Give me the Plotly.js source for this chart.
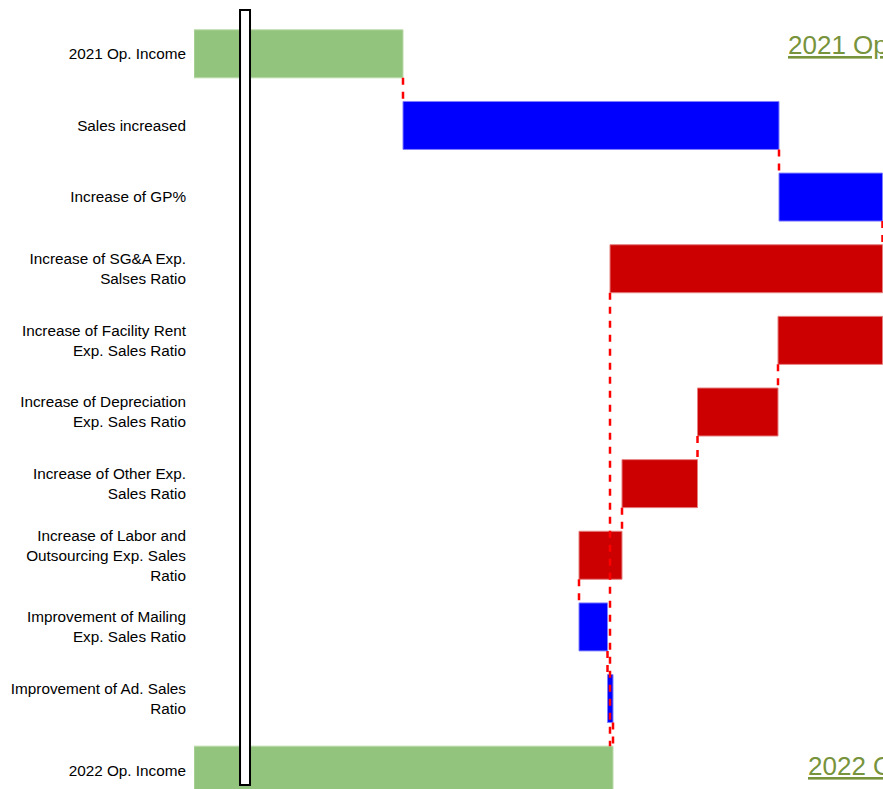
<!DOCTYPE html>
<html>
<head>
<meta charset="utf-8">
<script src="https://cdn.plot.ly/plotly-3.0.1.min.js"></script>
<style>
  html, body { margin: 0; padding: 0; overflow: hidden; background: #fff; }
  #chart { width: 1000px; height: 830px; }
</style>
</head>
<body>
<div id="chart"></div>
<script>
// ---- data ----
const categories = [
  "2021 Op. Income",
  "Sales increased",
  "Increase of GP%",
  "Increase of SG&A Exp.<br>Salses Ratio",
  "Increase of Facility Rent<br>Exp. Sales Ratio",
  "Increase of Depreciation<br>Exp. Sales Ratio",
  "Increase of Other Exp.<br>Sales Ratio",
  "Increase of Labor and<br>Outsourcing Exp. Sales<br>Ratio",
  "Improvement of Mailing<br>Exp. Sales Ratio",
  "Improvement of Ad. Sales<br>Ratio",
  "2022 Op. Income"
];
// kind: total = absolute level, delta = change, group = change made up of the rows that follow
const kinds  = ["total", "delta", "delta", "group", "delta", "delta", "delta", "delta", "delta", "delta", "total"];
const values = [209, 376, 103.5, -272.5, -104.5, -80.5, -75.5, -43, 28.5, 5.5, 419];
const titleTexts = ["2021 Op. Income", "2022 Op. Income"];

// ---- build waterfall ----
const colTotal = "#93C47D", colUp = "#0000FF", colDown = "#CC0000";
const edgeTotal = "#B9DBAA", edgeUp = "#7F7FFF", edgeDown = "#E57F7F";
const idx = categories.map((_, i) => i);
const bases = [], lens = [], ends = [], colors = [], edges = [];
let cur = 0;
for (let i = 0; i < values.length; i++) {
  const v = values[i];
  if (kinds[i] === "total") {
    bases.push(0); lens.push(v); ends.push(v); cur = v;
    colors.push(colTotal); edges.push(edgeTotal);
  } else {
    bases.push(cur); lens.push(v); ends.push(cur + v);
    if (kinds[i] === "delta") cur = cur + v;
    colors.push(v >= 0 ? colUp : colDown); edges.push(v >= 0 ? edgeUp : edgeDown);
  }
}

const barW = 0.67;
const traces = [{
  type: "bar", orientation: "h",
  y: idx, x: lens, base: bases, width: barW,
  marker: { color: colors, line: { color: edges, width: 1 } },
  hoverinfo: "skip", showlegend: false
}];

// connectors: end of one bar -> start of the next
const cx = [], cy = [];
function addConn(x, yFrom, yTo) {
  cx.push(x, x, null); cy.push(yFrom + barW / 2, yTo - barW / 2, null);
}
for (let i = 0; i < values.length - 1; i++) {
  if (kinds[i] === "group") {
    // group bar links straight to the final total
    addConn(ends[i], i, values.length - 1);
  } else {
    addConn(ends[i], i, i + 1);
  }
}
traces.push({
  type: "scatter", mode: "lines", x: cx, y: cy,
  line: { color: "#FF0000", width: 2.5, dash: "7px,7px" },
  hoverinfo: "skip", showlegend: false, connectgaps: false
});

const layout = {
  width: 1000, height: 830,
  margin: { l: 194, r: 0, t: 18, b: 24 },
  paper_bgcolor: "#fff", plot_bgcolor: "#fff",
  font: { family: "Liberation Sans, Arial, sans-serif", size: 15, color: "#000" },
  xaxis: { range: [0, 806], showticklabels: false, showgrid: false, zeroline: false, showline: false, ticks: "" },
  yaxis: {
    range: [values.length - 0.5, -0.5],
    tickvals: idx, ticktext: categories,
    showgrid: false, zeroline: false, showline: false, ticks: "",
    tickfont: { size: 15.3, color: "#000" }, ticklabelstandoff: 7
  },
  shapes: [{
    type: "rect", xref: "paper", yref: "paper",
    x0: 0.0571, x1: 0.0695, y0: 0.0266, y1: 1.0102,
    fillcolor: "#fff", line: { color: "#000", width: 2 }, layer: "above"
  }],
  annotations: [
    { text: "<u>" + titleTexts[0] + "</u>", xref: "paper", yref: "y", x: 0.7345, y: 0, yshift: 9,
      xanchor: "left", yanchor: "middle", showarrow: false, font: { size: 26, color: "#77933C" } },
    { text: "<u>" + titleTexts[1] + "</u>", xref: "paper", yref: "y", x: 0.7593, y: values.length - 1, yshift: 4,
      xanchor: "left", yanchor: "middle", showarrow: false, font: { size: 26, color: "#77933C" } }
  ]
};

Plotly.newPlot("chart", traces, layout, { displayModeBar: false, staticPlot: true });
</script>
</body>
</html>
